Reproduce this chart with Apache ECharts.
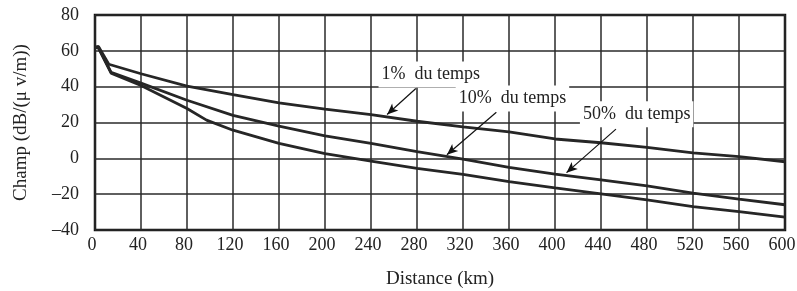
<!DOCTYPE html>
<html><head><meta charset="utf-8">
<script src="https://cdn.jsdelivr.net/npm/echarts@6/dist/echarts.min.js"></script>
<style>html,body{margin:0;padding:0;background:#fff}#c{width:797px;height:291px}</style>
</head><body><div id="c"></div>
<script>
const xTicks = [0,40,80,120,160,200,240,280,320,360,400,440,480,520,560,600];
const yTicks = [-40,-20,0,20,40,60,80];
const seriesNames = ['1% du temps','10% du temps','50% du temps'];
const dist1 = [0,3,12,40,80,120,160,200,240,280,320,360,400,440,480,520,560,600];
const champ1 = [62,62.5,52.5,47.2,40.3,35.5,30.9,27.5,24.4,20.7,17.6,14.8,10.8,8.7,6.1,3.1,0.9,-1.9];
const dist10 = [0,3,14,40,80,120,160,200,240,280,320,360,400,440,480,520,560,600];
const champ10 = [62,62,48,42,32.4,24,18,12.6,8.3,3.7,-0.4,-5,-8.8,-12,-15.4,-19.4,-22.8,-25.9];
const dist50 = [0,3,14,40,80,97,120,160,200,240,280,320,360,400,440,480,520,560,600];
const champ50 = [62,61.5,47.5,40.7,27.8,21.3,15.7,8.3,2.6,-1.5,-5.6,-8.9,-13,-16.5,-19.8,-23.2,-26.9,-29.7,-32.8];
// annotation anchors (data coords): label position, arrow start, arrow end
const labelPos = [[292,46.8],[363,33.4],[471,24.6]];
const arrowFrom = [[279,39],[349,25.7],[453,16.3]];
const arrowTo = [[254,24.5],[306,2],[410,-8]];

const F = 'Liberation Serif';
const pair = (xs, ys) => xs.map((x,i)=>[x,ys[i]]);
const datas = [pair(dist1,champ1), pair(dist10,champ10), pair(dist50,champ50)];
const fmt = v => String(v).replace('-', '\u2013');

const series = datas.map((d,i)=>({
  type:'line', data:d, showSymbol:false, symbol:'none', smooth:false,
  lineStyle:{color:'#262626', width:2.8}, z:3,
  markLine:{silent:true, symbol:['none','arrow'], symbolSize:[7,11],
    lineStyle:{color:'#111', width:1.2, type:'solid'}, label:{show:false},
    data:[[{coord:arrowFrom[i]},{coord:arrowTo[i]}]]},
  markPoint:{silent:true, symbol:'rect', symbolSize:1, itemStyle:{color:'rgba(0,0,0,0)'},
    label:{show:true, position:'inside', formatter:seriesNames[i].replace('% ','%  '), fontFamily:F, fontSize:18, color:'#222',
      backgroundColor:'#fff', padding:[4,3,4,3]},
    data:[{coord:labelPos[i]}]}
}));

const chart = echarts.init(document.getElementById('c'));
chart.setOption({
  animation:false,
  grid:{left:95, right:12, top:15, bottom:61, show:true, borderColor:'#111', borderWidth:2.5, backgroundColor:'transparent', outerBoundsMode:'none'},
  xAxis:{type:'value', min:0, max:600, interval:40,
    name:'Distance (km)', nameLocation:'middle', nameGap:40,
    nameTextStyle:{fontFamily:F, fontSize:19, color:'#222'},
    axisLine:{show:false}, axisTick:{show:false},
    axisLabel:{fontFamily:F, fontSize:18, color:'#222', margin:6, padding:[0,6,0,0]},
    splitLine:{show:true, lineStyle:{color:'#2a2a2a', width:1.5}}},
  yAxis:{type:'value', min:-40, max:80, interval:20,
    name:'Champ (dB/(\u03bc v/m))', nameLocation:'middle', nameGap:64,
    nameTextStyle:{fontFamily:F, fontSize:19, color:'#222'},
    axisLine:{show:false}, axisTick:{show:false},
    axisLabel:{fontFamily:F, fontSize:18, color:'#222', margin:16, formatter:fmt},
    splitLine:{show:true, lineStyle:{color:'#2a2a2a', width:1.5}}},
  series: series
});
</script></body></html>
